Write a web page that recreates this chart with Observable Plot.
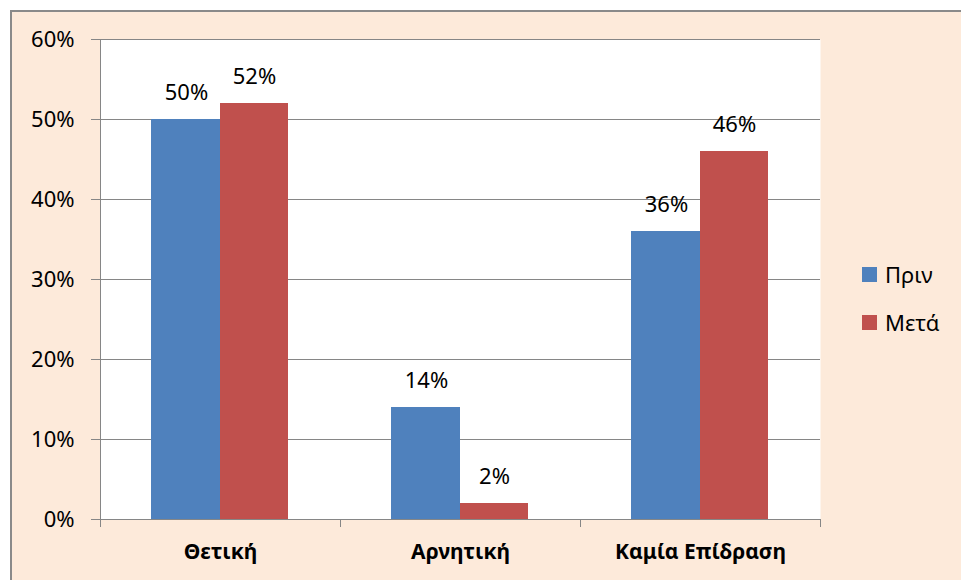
<!DOCTYPE html>
<html>
<head>
<meta charset="utf-8">
<script src="https://cdn.jsdelivr.net/npm/d3@7"></script>
<script src="https://cdn.jsdelivr.net/npm/@observablehq/plot@0.6"></script>
<style>
  html, body { margin: 0; padding: 0; overflow: hidden; background: #ffffff; }
  #wrap { position: relative; width: 961px; height: 580px; overflow: hidden; }
  #panel { position: absolute; left: 10px; top: 10px; width: 1100px; height: 800px;
           background: #FDEADA; border: 2px solid #8a8a8a; box-sizing: border-box; }
  #chart { position: absolute; left: 0; top: 0; }
  .leg { position: absolute; font-family: "Noto Sans", sans-serif; font-size: 22px; color: #000;
         display: flex; align-items: center; }
  .sw { width: 15px; height: 15px; margin-right: 8px; }
</style>
</head>
<body>
<div id="wrap">
  <div id="panel"></div>
  <div id="chart"></div>
  <div id="legend"></div>
</div>
<script>
const categories = ["Θετική", "Αρνητική", "Καμία Επίδραση"];
const seriesNames = ["Πριν", "Μετά"];
const beforeValues = [0.50, 0.14, 0.36];
const afterValues = [0.52, 0.02, 0.46];
const yTicks = [0, 0.1, 0.2, 0.3, 0.4, 0.5, 0.6];
const colors = ["#4F81BD", "#C0504D"];

const before = categories.map((c, i) => ({cat: c, series: seriesNames[0], value: beforeValues[i]}));
const after = categories.map((c, i) => ({cat: c, series: seriesNames[1], value: afterValues[i]}));
const gray = "#868686";
const pct = d3.format(".0%");

const chart = Plot.plot({
  width: 961,
  height: 580,
  marginLeft: 100,
  marginRight: 141,
  marginTop: 39,
  marginBottom: 61,
  style: {background: "transparent", fontFamily: "Noto Sans, sans-serif", fontSize: "22px", color: "#000", overflow: "visible"},
  x: {type: "band", domain: categories, padding: 0},
  y: {domain: [0, 0.6]},
  marks: [
    Plot.frame({fill: "white", stroke: null}),
    Plot.gridY(yTicks, {stroke: gray, strokeOpacity: 1}),
    Plot.axisY(yTicks, {tickSize: 9, tickPadding: 17, tickFormat: pct, stroke: gray, fill: "#000", fontSize: 22, label: null}),
    Plot.frame({anchor: "left", stroke: gray}),
    Plot.barY(before, {x: "cat", y: "value", fill: colors[0], insetLeft: 51, insetRight: 120}),
    Plot.barY(after, {x: "cat", y: "value", fill: colors[1], insetLeft: 120, insetRight: 52}),
    Plot.ruleY([0], {stroke: gray}),
    Plot.axisX({tickSize: 0, tickPadding: 25, fontWeight: "bold", fontSize: 21, fill: "#000", label: null}),
    Plot.axisX({tickSize: 8, dx: 120, text: null, stroke: gray, label: null}),
    Plot.axisX([categories[0]], {tickSize: 8, dx: -120, text: null, stroke: gray, label: null}),
    Plot.text(before, {x: "cat", y: "value", text: d => pct(d.value), dx: -34, dy: -27, fontSize: 22, fill: "#000"}),
    Plot.text(after, {x: "cat", y: "value", text: d => pct(d.value), dx: 34, dy: -27, fontSize: 22, fill: "#000"})
  ]
});
document.getElementById("chart").appendChild(chart);

const legend = document.getElementById("legend");
seriesNames.forEach((name, i) => {
  const item = document.createElement("div");
  item.className = "leg";
  item.style.left = "862px";
  item.style.top = (260 + i * 48) + "px";
  item.style.height = "28px";
  const sw = document.createElement("div");
  sw.className = "sw";
  sw.style.background = colors[i];
  const t = document.createElement("span");
  t.textContent = name;
  item.appendChild(sw);
  item.appendChild(t);
  legend.appendChild(item);
});
</script>
</body>
</html>
